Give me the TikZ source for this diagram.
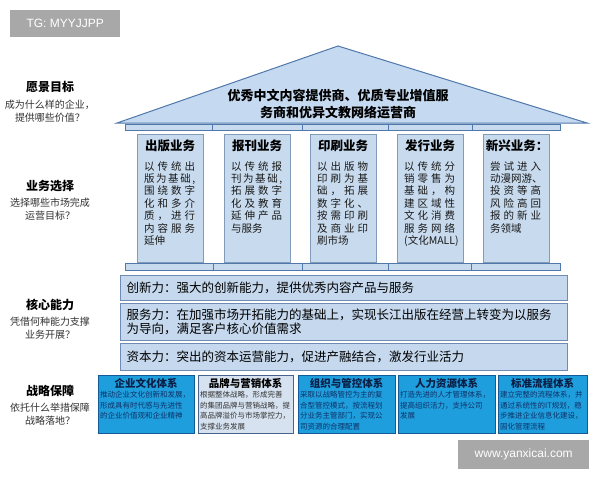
\documentclass[tikz,border=0pt]{standalone}
\usepackage{fontspec}
\setmainfont{Liberation Sans}
\newfontfamily\cjk{Noto Sans CJK SC}
\definecolor{rooffill}{RGB}{197,217,240}
\definecolor{roofdraw}{RGB}{80,120,170}
\definecolor{colfill}{RGB}{200,219,238}
\definecolor{coldraw}{RGB}{130,155,185}
\definecolor{barfill}{RGB}{197,216,237}
\definecolor{bardraw}{RGB}{110,140,180}
\definecolor{bluefill}{RGB}{30,158,220}
\definecolor{bluedraw}{RGB}{20,90,150}
\definecolor{bluetitle}{RGB}{10,30,70}
\definecolor{bluetext}{RGB}{15,50,105}
\definecolor{palefill}{RGB}{214,226,240}
\definecolor{paledraw}{RGB}{70,100,140}
\definecolor{wmfill}{RGB}{168,168,168}
\definecolor{subgray}{RGB}{50,50,50}
\newlength\sprw
\setlength\sprw{51pt}
\makeatletter
\def\spr#1{\makebox[\sprw][s]{\spr@first#1\relax}}
\def\spr@first#1{#1\spr@rest}
\def\spr@rest#1{\ifx#1\relax\else\hfill#1\expandafter\spr@rest\fi}
\makeatother
\tikzset{
  wmark/.style={fill=wmfill, text=white, inner sep=0, font=\fontsize{12}{14}\selectfont},
  lefttitle/.style={font=\cjk\bfseries\fontsize{12}{14}\selectfont, text=black},
  leftsub/.style={font=\cjk\fontsize{10}{13}\selectfont, text=subgray, align=center},
  colbox/.style={draw=coldraw, fill=colfill, line width=0.8pt, anchor=north west, minimum width=66, minimum height=128, inner sep=0},
  coltitle/.style={font=\cjk\bfseries\fontsize{12.5}{14}\selectfont},
  colbody/.style={font=\cjk\fontsize{10.5}{12.4}\selectfont, anchor=north west, align=left, inner sep=0, text=black!90},
  band/.style={draw=roofdraw, fill=colfill, line width=0.7pt},
  barbox/.style={draw=bardraw, fill=barfill, line width=1pt, anchor=north west, text width=435, inner xsep=6, inner ysep=0, align=left, minimum height=#1, font=\cjk\fontsize{12.5}{14}\selectfont, text=black},
  bluebox/.style={draw=bluedraw, fill=bluefill, line width=0.8pt, anchor=north west, minimum height=58, minimum width=#1, inner sep=0},
  palebox/.style={draw=paledraw, fill=palefill, line width=0.8pt, anchor=north west, minimum height=58, minimum width=#1, inner sep=0},
  btitle/.style={font=\cjk\bfseries\fontsize{10.5}{12}\selectfont, text=#1},
  bbody/.style={font=\cjk\fontsize{7.5}{10.6}\selectfont, anchor=north west, align=left, inner sep=0, text=#1},
}
\begin{document}
\begin{tikzpicture}[x=1pt,y=-1pt]
\useasboundingbox (0,0) rectangle (600,480);
\fill[white] (0,0) rectangle (600,480);
% watermarks
\node[wmark, anchor=north west, minimum width=110, minimum height=27] (wm1) at (10,10) {TG: MYYJJPP};
\node[wmark, anchor=north west, minimum width=131, minimum height=29] (wm2) at (458,440) {www.yanxicai.com};
% left labels
\node[lefttitle] (l1) at (50,87) {愿景目标};
\node[leftsub] (l1s) at (50,111) {成为什么样的企业，\\提供哪些价值？};
\node[lefttitle] (l2) at (50,186) {业务选择};
\node[leftsub] (l2s) at (50,209) {选择哪些市场完成\\运营目标？};
\node[lefttitle] (l3) at (50,305) {核心能力};
\node[leftsub] (l3s) at (50,328) {凭借何种能力支撑\\业务开展？};
\node[lefttitle] (l4) at (50,391) {战略保障};
\node[leftsub] (l4s) at (50,414) {依托什么举措保障\\战略落地？};
% roof
\coordinate (rl) at (117,123);
\coordinate (ra) at (338,46);
\coordinate (rr) at (587,123);
\filldraw[fill=rooffill, draw=roofdraw, line width=1pt] (rl) -- (ra) -- (rr) -- cycle;
\node[font=\cjk\bfseries\fontsize{13}{17}\selectfont, align=center] (roof) at (338,104) {优秀中文内容提供商、优质专业增值服\\务商和优异文教网络运营商};
% top band
\draw[band] (125,124) rectangle (560,130);
\foreach \x in {212,302,388,472} \draw[roofdraw, line width=0.7pt] (\x,124) -- (\x,130);
% columns
\node[colbox] (c1) at (137,134) {};
\node[colbox] (c2) at (224,134) {};
\node[colbox] (c3) at (310,134) {};
\node[colbox] (c4) at (397,134) {};
\node[colbox] (c5) at (483,134) {};
\node[coltitle] (c1t) at (170,146) {出版业务};
\node[coltitle] (c2t) at (257,146) {报刊业务};
\node[coltitle] (c3t) at (343,146) {印刷业务};
\node[coltitle] (c4t) at (430,146) {发行业务};
\node[coltitle] (c5t) at (517,146) {新兴业务：};
\node[colbody] (c1b) at (144,161) {\spr{以传统出}\\\spr{版为基础,}\\\spr{围绕数字}\\\spr{化和多介}\\\spr{质，进行}\\\spr{内容服务}\\延伸};
\node[colbody] (c2b) at (231,161) {\spr{以传统报}\\\spr{刊为基础,}\\\spr{拓展数字}\\\spr{化及教育}\\\spr{延伸产品}\\与服务};
\node[colbody] (c3b) at (317,161) {\spr{以出版物}\\\spr{印刷为基}\\\spr{础，拓展}\\\spr{数字化、}\\\spr{按需印刷}\\\spr{及商业印}\\刷市场};
\node[colbody] (c4b) at (404,161) {\spr{以传统分}\\\spr{销零售为}\\\spr{基础，构}\\\spr{建区域性}\\\spr{文化消费}\\\spr{服务网络}\\(文化MALL)};
\node[colbody] (c5b) at (490,161) {\spr{尝试进入}\\动漫网游、\\\spr{投资等高}\\\spr{风险高回}\\\spr{报的新业}\\务领域};
% bottom band
\draw[band] (125,263) rectangle (560,270);
\foreach \x in {213,302,388,471} \draw[roofdraw, line width=0.7pt] (\x,263) -- (\x,270);
% bars
\node[barbox=25] (b1) at (120,275) {创新力：强大的创新能力，提供优秀内容产品与服务};
\node[barbox=37] (b2) at (120,303) {服务力：在加强市场开拓能力的基础上，实现长江出版在经营上转变为以服务\\为导向，满足客户核心价值需求};
\node[barbox=27] (b3) at (120,343) {资本力：突出的资本运营能力，促进产融结合，激发行业活力};
% bottom boxes
\node[bluebox=96] (s1) at (98,375) {};
\node[palebox=95] (s2) at (198,375) {};
\node[bluebox=97] (s3) at (298,375) {};
\node[bluebox=97] (s4) at (398,375) {};
\node[bluebox=89] (s5) at (498,375) {};
\node[btitle=bluetitle] (s1t) at (146,383) {企业文化体系};
\node[btitle=black] (s2t) at (245.5,383) {品牌与营销体系};
\node[btitle=bluetitle] (s3t) at (346.5,383) {组织与管控体系};
\node[btitle=bluetitle] (s4t) at (446.5,383) {人力资源体系};
\node[btitle=bluetitle] (s5t) at (542.5,383) {标准流程体系};
\node[bbody=bluetext] (s1b) at (100,391) {推动企业文化创新和发展，\\形成具有时代感与先进性\\的企业价值观和企业精神};
\node[bbody=black!80] (s2b) at (200,391) {根据整体战略，形成完善\\的集团品牌与营销战略，提\\高品牌溢价与市场掌控力，\\支撑业务发展};
\node[bbody=bluetext] (s3b) at (300,391) {采取以战略管控为主的复\\合型管控模式，按流程划\\分业务主管部门，实现公\\司资源的合理配置};
\node[bbody=bluetext] (s4b) at (400,391) {打造先进的人才管理体系，\\提高组织活力，支持公司\\发展};
\node[bbody=bluetext] (s5b) at (500,391) {建立完整的流程体系，并\\通过系统性的IT规划，稳\\步推进企业信息化建设，\\固化管理流程};
\end{tikzpicture}
\end{document}
